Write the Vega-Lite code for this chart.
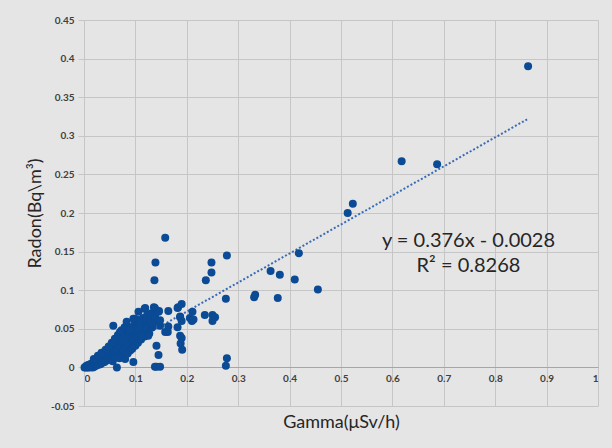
{
  "$schema": "https://vega.github.io/schema/vega-lite/v6.json",
  "width": 514,
  "height": 386,
  "autosize": {"type": "none"},
  "padding": {"left": 84, "top": 20, "right": 14, "bottom": 42},
  "background": "#e5e5e5",
  "config": {"view": {"stroke": null}, "font": "Lato"},
  "datasets": {
    "pts": [
      {"x":0.001,"y":0.000},{"x":0.003,"y":0.001},{"x":0.004,"y":0.000},{"x":0.005,"y":0.002},{"x":0.006,"y":0.001},
      {"x":0.007,"y":0.000},{"x":0.008,"y":0.003},{"x":0.009,"y":0.001},{"x":0.010,"y":0.002},{"x":0.011,"y":0.000},
      {"x":0.012,"y":0.004},{"x":0.013,"y":0.001},{"x":0.014,"y":0.003},{"x":0.015,"y":0.005},{"x":0.016,"y":0.002},
      {"x":0.017,"y":0.000},{"x":0.018,"y":0.006},{"x":0.019,"y":0.003},{"x":0.020,"y":0.001},{"x":0.021,"y":0.007},
      {"x":0.022,"y":0.004},{"x":0.023,"y":0.002},{"x":0.024,"y":0.009},{"x":0.025,"y":0.005},{"x":0.026,"y":0.012},
      {"x":0.027,"y":0.003},{"x":0.028,"y":0.008},{"x":0.029,"y":0.010},{"x":0.030,"y":0.006},{"x":0.031,"y":0.013},
      {"x":0.032,"y":0.004},{"x":0.033,"y":0.011},{"x":0.034,"y":0.008},{"x":0.035,"y":0.015},{"x":0.036,"y":0.006},
      {"x":0.037,"y":0.012},{"x":0.038,"y":0.009},{"x":0.039,"y":0.017},{"x":0.040,"y":0.007},{"x":0.041,"y":0.014},
      {"x":0.042,"y":0.011},{"x":0.043,"y":0.019},{"x":0.044,"y":0.009},{"x":0.045,"y":0.016},{"x":0.046,"y":0.013},
      {"x":0.047,"y":0.021},{"x":0.048,"y":0.010},{"x":0.049,"y":0.018},{"x":0.050,"y":0.014},{"x":0.051,"y":0.024},
      {"x":0.052,"y":0.012},{"x":0.053,"y":0.020},{"x":0.054,"y":0.016},{"x":0.055,"y":0.027},{"x":0.056,"y":0.008},
      {"x":0.057,"y":0.022},{"x":0.058,"y":0.018},{"x":0.059,"y":0.031},{"x":0.060,"y":0.013},{"x":0.061,"y":0.025},
      {"x":0.062,"y":0.020},{"x":0.063,"y":0.034},{"x":0.064,"y":0.000},{"x":0.065,"y":0.016},{"x":0.066,"y":0.028},
      {"x":0.067,"y":0.023},{"x":0.068,"y":0.037},{"x":0.069,"y":0.012},{"x":0.070,"y":0.031},{"x":0.071,"y":0.019},
      {"x":0.072,"y":0.041},{"x":0.073,"y":0.026},{"x":0.074,"y":0.015},{"x":0.075,"y":0.034},{"x":0.076,"y":0.044},
      {"x":0.077,"y":0.022},{"x":0.078,"y":0.029},{"x":0.079,"y":0.038},{"x":0.080,"y":0.011},{"x":0.081,"y":0.047},
      {"x":0.082,"y":0.025},{"x":0.083,"y":0.033},{"x":0.084,"y":0.041},{"x":0.085,"y":0.018},{"x":0.086,"y":0.050},
      {"x":0.087,"y":0.028},{"x":0.088,"y":0.036},{"x":0.089,"y":0.044},{"x":0.090,"y":0.022},{"x":0.091,"y":0.052},
      {"x":0.092,"y":0.031},{"x":0.093,"y":0.039},{"x":0.094,"y":0.024},{"x":0.095,"y":0.047},{"x":0.096,"y":0.007},
      {"x":0.097,"y":0.035},{"x":0.098,"y":0.055},{"x":0.099,"y":0.042},{"x":0.100,"y":0.028},{"x":0.101,"y":0.050},
      {"x":0.102,"y":0.038},{"x":0.103,"y":0.058},{"x":0.104,"y":0.045},{"x":0.105,"y":0.032},{"x":0.106,"y":0.053},
      {"x":0.107,"y":0.041},{"x":0.108,"y":0.061},{"x":0.110,"y":0.048},{"x":0.111,"y":0.036},{"x":0.112,"y":0.057},
      {"x":0.113,"y":0.044},{"x":0.115,"y":0.064},{"x":0.116,"y":0.052},{"x":0.118,"y":0.040},{"x":0.120,"y":0.060},
      {"x":0.121,"y":0.048},{"x":0.123,"y":0.068},{"x":0.125,"y":0.055},{"x":0.127,"y":0.044},{"x":0.129,"y":0.063},
      {"x":0.131,"y":0.070},{"x":0.133,"y":0.052},{"x":0.135,"y":0.058},{"x":0.138,"y":0.066},
      {"x":0.019,"y":0.011},{"x":0.027,"y":0.015},{"x":0.034,"y":0.019},{"x":0.042,"y":0.023},{"x":0.048,"y":0.027},
      {"x":0.054,"y":0.032},{"x":0.060,"y":0.037},{"x":0.066,"y":0.042},{"x":0.073,"y":0.048},{"x":0.079,"y":0.052},
      {"x":0.057,"y":0.054},{"x":0.070,"y":0.046},{"x":0.083,"y":0.059},{"x":0.089,"y":0.048},{"x":0.096,"y":0.063},
      {"x":0.099,"y":0.063},{"x":0.106,"y":0.072},{"x":0.106,"y":0.050},{"x":0.106,"y":0.061},{"x":0.109,"y":0.057},
      {"x":0.112,"y":0.041},{"x":0.118,"y":0.076},{"x":0.119,"y":0.077},{"x":0.119,"y":0.050},{"x":0.125,"y":0.041},
      {"x":0.132,"y":0.057},{"x":0.132,"y":0.061},{"x":0.136,"y":0.078},{"x":0.138,"y":0.077},{"x":0.138,"y":0.063},
      {"x":0.145,"y":0.072},{"x":0.146,"y":0.073},{"x":0.148,"y":0.054},{"x":0.148,"y":0.061},{"x":0.141,"y":0.028},
      {"x":0.145,"y":0.016},{"x":0.138,"y":0.001},{"x":0.141,"y":0.001},{"x":0.148,"y":0.001},{"x":0.158,"y":0.046},
      {"x":0.163,"y":0.046},{"x":0.164,"y":0.073},{"x":0.164,"y":0.053},{"x":0.182,"y":0.077},{"x":0.183,"y":0.078},
      {"x":0.190,"y":0.082},{"x":0.182,"y":0.052},{"x":0.187,"y":0.066},{"x":0.187,"y":0.065},{"x":0.190,"y":0.060},
      {"x":0.206,"y":0.064},{"x":0.210,"y":0.060},{"x":0.213,"y":0.062},{"x":0.211,"y":0.072},{"x":0.187,"y":0.041},
      {"x":0.190,"y":0.038},{"x":0.188,"y":0.031},{"x":0.191,"y":0.023},{"x":0.235,"y":0.068},{"x":0.250,"y":0.068},
      {"x":0.255,"y":0.065},{"x":0.250,"y":0.060},{"x":0.237,"y":0.113},{"x":0.248,"y":0.123},{"x":0.248,"y":0.136},
      {"x":0.137,"y":0.113},{"x":0.139,"y":0.136},{"x":0.158,"y":0.168},{"x":0.276,"y":0.089},{"x":0.278,"y":0.145},
      {"x":0.278,"y":0.012},{"x":0.276,"y":0.002},{"x":0.331,"y":0.091},{"x":0.333,"y":0.094},{"x":0.363,"y":0.125},
      {"x":0.377,"y":0.090},{"x":0.381,"y":0.120},{"x":0.410,"y":0.114},{"x":0.418,"y":0.148},{"x":0.455,"y":0.101},
      {"x":0.513,"y":0.200},{"x":0.523,"y":0.212},{"x":0.618,"y":0.267},{"x":0.687,"y":0.263},{"x":0.864,"y":0.390}
    ],
    "trend": [{"x":0.005,"y":-0.0009},{"x":0.862,"y":0.3213}],
    "labels": [
      {"x":0.748,"y":0.1639,"label":"y = 0.376x - 0.0028"},
      {"x":0.748,"y":0.1315,"label":"R² = 0.8268"}
    ]
  },
  "encoding": {
    "x": {
      "field": "x", "type": "quantitative",
      "scale": {"domain": [0, 1], "nice": false, "zero": false},
      "axis": {
        "values": [0,0.1,0.2,0.3,0.4,0.5,0.6,0.7,0.8,0.9,1],
        "labelExpr": "'' + datum.value",
        "offset": -39,
        "domainColor": "#a6a6a6",
        "ticks": false,
        "labelFontSize": 10,
        "labelFontWeight": "bold",
        "labelColor": "#404040",
        "labelPadding": 6,
        "gridColor": "#c6c6c6",
        "title": "Gamma(μSv/h)",
        "titleFontSize": 18,
        "titleFontWeight": "normal",
        "titleColor": "#262626",
        "titlePadding": 30
      }
    },
    "y": {
      "field": "y", "type": "quantitative",
      "scale": {"domain": [-0.05, 0.45], "nice": false, "zero": false},
      "axis": {
        "values": [-0.05,0,0.05,0.1,0.15,0.2,0.25,0.3,0.35,0.4,0.45],
        "labelExpr": "'' + datum.value",
        "domainColor": "#c6c6c6",
        "tickColor": "#c6c6c6",
        "tickSize": 6,
        "labelFontSize": 10,
        "labelFontWeight": "bold",
        "labelColor": "#404040",
        "labelPadding": 4,
        "gridColor": "#c6c6c6",
        "title": "Radon(Bq\\m³)",
        "titleFontSize": 18,
        "titleFontWeight": "normal",
        "titleColor": "#262626",
        "titlePadding": 6
      }
    }
  },
  "layer": [
    {
      "data": {"name": "trend"},
      "mark": {"type": "line", "color": "#3a6cb5", "strokeWidth": 2, "strokeDash": [2, 2]}
    },
    {
      "data": {"name": "pts"},
      "mark": {"type": "circle", "color": "#0b4a94", "size": 64, "opacity": 1}
    },
    {
      "data": {"name": "labels"},
      "mark": {"type": "text", "fontSize": 20, "color": "#262626", "align": "center", "baseline": "middle"},
      "encoding": {"text": {"field": "label"}}
    }
  ]
}
